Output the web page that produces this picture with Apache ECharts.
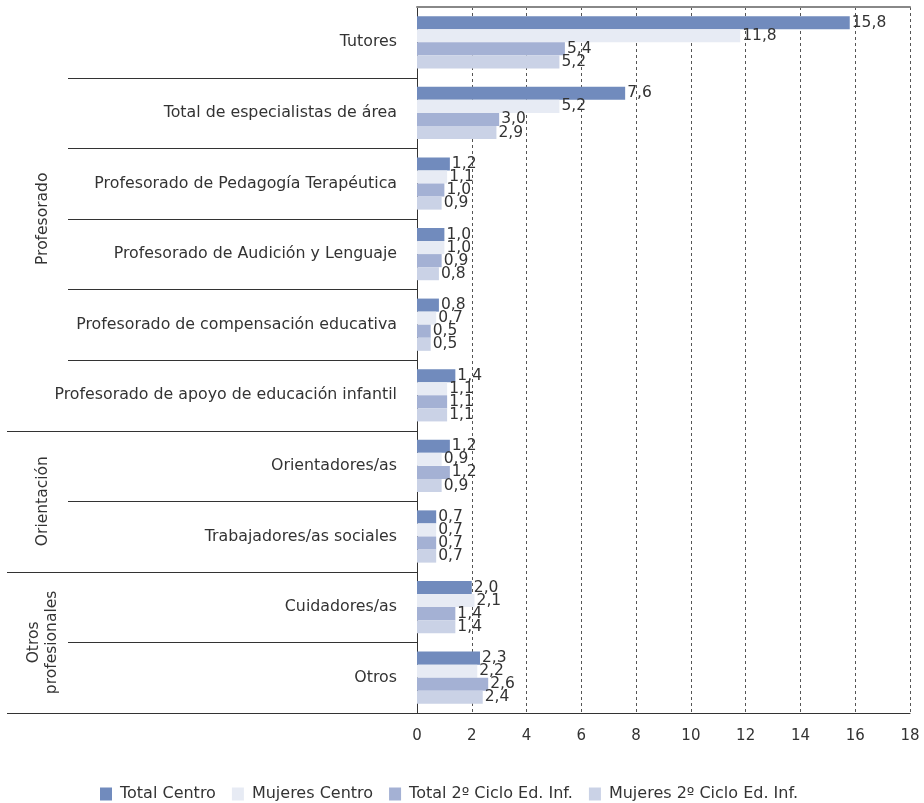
<!DOCTYPE html>
<html><head><meta charset="utf-8">
<script src="https://cdn.jsdelivr.net/npm/echarts@6/dist/echarts.min.js"></script>
<style>html,body{margin:0;padding:0;background:#fff}#c{width:924px;height:803px}</style>
</head><body><div id="c"></div>
<script>
const categories = ['Tutores','Total de especialistas de área','Profesorado de Pedagogía Terapéutica','Profesorado de Audición y Lenguaje','Profesorado de compensación educativa','Profesorado de apoyo de educación infantil','Orientadores/as','Trabajadores/as sociales','Cuidadores/as','Otros'];
const totalCentro   = [15.8, 7.6, 1.2, 1.0, 0.8, 1.4, 1.2, 0.7, 2.0, 2.3];
const mujeresCentro = [11.8, 5.2, 1.1, 1.0, 0.7, 1.1, 0.9, 0.7, 2.1, 2.2];
const total2Ciclo   = [5.4, 3.0, 1.0, 0.9, 0.5, 1.1, 1.2, 0.7, 1.4, 2.6];
const mujeres2Ciclo = [5.2, 2.9, 0.9, 0.8, 0.5, 1.1, 0.9, 0.7, 1.4, 2.4];
const seriesNames = ['Total Centro','Mujeres Centro','Total 2º Ciclo Ed. Inf.','Mujeres 2º Ciclo Ed. Inf.'];
const seriesColors = ['#718bbd','#e7ebf4','#a4b1d4','#cad2e6'];
const groups = [
  {name: 'Profesorado', from: 0, to: 5},
  {name: 'Orientación', from: 6, to: 7},
  {name: 'Otros\nprofesionales', from: 8, to: 9}
];
const xTicks = {min: 0, max: 18, interval: 2};

const FONT = 'DejaVu Sans';
const chart = echarts.init(document.getElementById('c'));
const dataArr = [totalCentro, mujeresCentro, total2Ciclo, mujeres2Ciclo];
const fmt = p => p.value.toFixed(1).replace('.', ',');

chart.setOption({
  animation: false,
  textStyle: {fontFamily: FONT},
  grid: {left: 417, right: 14, top: 7, bottom: 90, containLabel: false},
  legend: {
    data: seriesNames, left: 95, top: 781, icon: 'rect', itemWidth: 12, itemHeight: 13, itemGap: 16,
    textStyle: {fontFamily: FONT, fontSize: 16, color: '#333', padding: [0,0,0,3]}
  },
  xAxis: [{
    type: 'value', min: xTicks.min, max: xTicks.max, interval: xTicks.interval, position: 'bottom',
    axisLine: {show: true, lineStyle: {color: '#333', width: 1}},
    axisTick: {show: false},
    axisLabel: {fontFamily: FONT, fontSize: 15, color: '#333', margin: 16},
    splitLine: {show: true, lineStyle: {color: '#555', type: [3,3], width: 1}}
  }, {
    type: 'value', min: xTicks.min, max: xTicks.max, interval: xTicks.interval, position: 'top',
    axisLine: {show: true, lineStyle: {color: '#888', width: 2}},
    axisTick: {show: false}, axisLabel: {show: false}, splitLine: {show: false}
  }],
  yAxis: {
    type: 'category', data: categories, inverse: true,
    axisLine: {show: true, lineStyle: {color: '#333', width: 1}},
    axisTick: {show: false},
    axisLabel: {fontFamily: FONT, fontSize: 15.8, color: '#333', margin: 20}
  },
  series: seriesNames.map((n, i) => ({
    name: n, type: 'bar', data: dataArr[i],
    barGap: '0%', barCategoryGap: '26%',
    itemStyle: {color: seriesColors[i]},
    label: {show: true, position: 'right', distance: 2, formatter: fmt, fontFamily: FONT, fontSize: 15.5, color: '#333'}
  }))
});

// separators and group labels computed from axis scale
const c0 = chart.convertToPixel({yAxisIndex: 0}, categories[0]);
const c1 = chart.convertToPixel({yAxisIndex: 0}, categories[1]);
const half = (c1 - c0) / 2;
const x0 = chart.convertToPixel({xAxisIndex: 0}, 0);
const graphics = [];
const groupEnds = new Set(groups.map(g => g.to));
for (let i = 0; i < categories.length; i++) {
  const yc = chart.convertToPixel({yAxisIndex: 0}, categories[i]);
  const yb = Math.round(yc + half) + 0.5;
  const isGroupEnd = groupEnds.has(i);
  graphics.push({type: 'line', shape: {x1: isGroupEnd ? 7 : 68, y1: yb, x2: x0, y2: yb},
    style: {stroke: '#333', lineWidth: 1}, silent: true});
}
groups.forEach(g => {
  const ya = chart.convertToPixel({yAxisIndex: 0}, categories[g.from]) - half;
  const yz = chart.convertToPixel({yAxisIndex: 0}, categories[g.to]) + half;
  graphics.push({type: 'text', x: 43, y: (ya + yz) / 2, rotation: Math.PI / 2,
    style: {text: g.name, fontFamily: FONT, fontSize: 15.5, fill: '#333', textAlign: 'center', textVerticalAlign: 'middle', lineHeight: 18},
    silent: true});
});
chart.setOption({graphic: graphics});
</script></body></html>
